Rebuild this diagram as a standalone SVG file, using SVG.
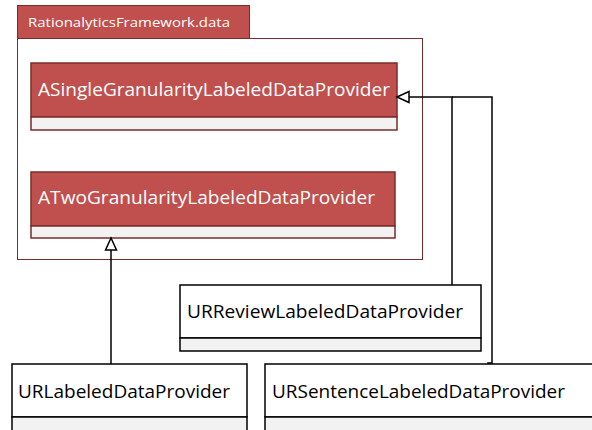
<svg xmlns="http://www.w3.org/2000/svg" width="592" height="430" viewBox="0 0 592 430">
  <style>
    .pkg { fill: #ffffff; stroke: #7b2c2a; stroke-width: 1; }
    .tab { fill: #c0504d; stroke: #7b2c2a; stroke-width: 1; }
    .hdr-red { fill: #c0504d; stroke: #7b2c2a; stroke-width: 1.5; }
    .hdr-white { fill: #ffffff; stroke: #000000; stroke-width: 1.5; }
    .cmp-red { fill: #f2f2f2; stroke: #7b2c2a; stroke-width: 1.5; }
    .cmp-white { fill: #f2f2f2; stroke: #000000; stroke-width: 1.5; }
    .t { font-family: "Open Sans", "Liberation Sans", sans-serif; }
    .pkg-label { font-size: 13px; fill: #ffffff; }
    .name-red { font-size: 18px; fill: #ffffff; }
    .name { font-size: 18.5px; fill: #000000; }
    .edge { fill: none; stroke: #000000; stroke-width: 1.5; }
    .head { fill: #ffffff; stroke: #000000; stroke-width: 1.5; stroke-linejoin: miter; }
  </style>

  <!-- package frame -->
  <g id="pkg-data">
    <rect class="pkg" x="17.5" y="38.5" width="405" height="221"/>
    <rect class="tab" x="17.5" y="5.5" width="232" height="33"/>
    <text class="t pkg-label" x="28" y="27" textLength="202" lengthAdjust="spacingAndGlyphs">RationalyticsFramework.data</text>
  </g>

  <g id="ASingleGranularityLabeledDataProvider">
    <rect class="hdr-red" x="31" y="63" width="366" height="54"/>
    <rect class="cmp-red" x="31" y="117" width="366" height="13"/>
    <text class="t name-red" x="38" y="96" textLength="352" lengthAdjust="spacingAndGlyphs">ASingleGranularityLabeledDataProvider</text>
  </g>

  <g id="ATwoGranularityLabeledDataProvider">
    <rect class="hdr-red" x="31" y="172" width="364" height="54"/>
    <rect class="cmp-red" x="31" y="226" width="364" height="12"/>
    <text class="t name-red" x="38" y="204" textLength="337" lengthAdjust="spacingAndGlyphs">ATwoGranularityLabeledDataProvider</text>
  </g>

  <g id="URReviewLabeledDataProvider">
    <rect class="hdr-white" x="180" y="285" width="301" height="53"/>
    <rect class="cmp-white" x="180" y="338" width="301" height="13"/>
    <text class="t name" x="187" y="318" textLength="276" lengthAdjust="spacingAndGlyphs">URReviewLabeledDataProvider</text>
  </g>

  <g id="URLabeledDataProvider">
    <rect class="hdr-white" x="12" y="364" width="235" height="53"/>
    <rect class="cmp-white" x="12" y="417" width="235" height="20"/>
    <text class="t name" x="18" y="398" textLength="212" lengthAdjust="spacingAndGlyphs">URLabeledDataProvider</text>
  </g>

  <g id="URSentenceLabeledDataProvider">
    <rect class="hdr-white" x="265" y="364" width="340" height="53"/>
    <rect class="cmp-white" x="265" y="417" width="340" height="20"/>
    <text class="t name" x="272" y="398" textLength="293" lengthAdjust="spacingAndGlyphs">URSentenceLabeledDataProvider</text>
  </g>

  <!-- generalization connectors -->
  <g id="connectors">
    <path class="edge" d="M111 364 V250"/>
    <polygon class="head" points="111,238 105.5,250 116.5,250"/>
    <path class="edge" d="M452 285 V97 H409"/>
    <path class="edge" d="M488 364 V363 H492 V97 H452"/>
    <polygon class="head" points="397,97 409,91.5 409,102.5"/>
  </g>
</svg>
